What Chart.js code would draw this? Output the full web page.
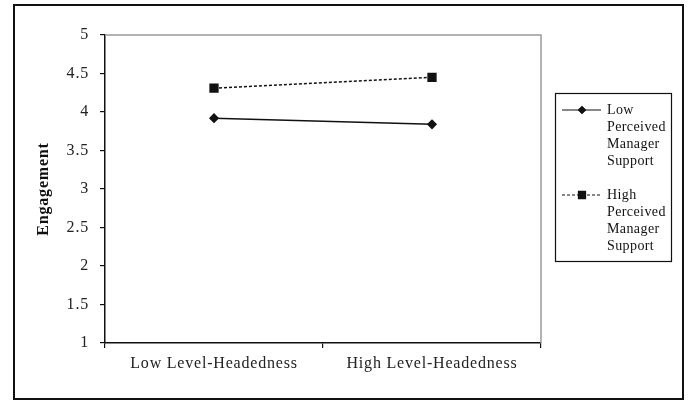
<!DOCTYPE html>
<html>
<head>
<meta charset="utf-8">
<script src="https://cdn.jsdelivr.net/npm/chart.js@4"></script>
<style>
  body { margin: 0; background: #fff; }
  #wrap { position: relative; width: 688px; height: 400px; }
  #frame { position: absolute; left: 13px; top: 4px; width: 667px; height: 392px; border: 2px solid #111; pointer-events: none; }
  canvas { position: absolute; left: 0; top: 0; }
</style>
</head>
<body>
<div id="wrap">
  <canvas id="chart" width="688" height="400"></canvas>
  <div id="frame"></div>
</div>
<script>
// Données du graphique
const categories = ['Low Level-Headedness', 'High Level-Headedness'];
const lowSupport = [3.92, 3.84];
const highSupport = [4.31, 4.45];
const seriesNames = [
    ['Low', 'Perceived', 'Manager', 'Support'],
    ['High', 'Perceived', 'Manager', 'Support']
];
const yTicks = [1, 1.5, 2, 2.5, 3, 3.5, 4, 4.5, 5];

const serif = "'Liberation Serif', 'DejaVu Serif', serif";

// Espacement des lettres (le texte de l'original est assez large)
const spacing = {
    id: 'spacing',
    beforeDraw(chart) {
        chart.ctx.letterSpacing = '0.8px';
    }
};

// Bordure grise en haut et à droite de la zone du graphique
const plotFrame = {
    id: 'plotFrame',
    beforeDatasetsDraw(chart) {
        const a = chart.chartArea;
        const ctx = chart.ctx;
        ctx.save();
        ctx.strokeStyle = '#9a9a9a';
        ctx.lineWidth = 1.5;
        ctx.beginPath();
        ctx.moveTo(a.left, a.top);
        ctx.lineTo(a.right, a.top);
        ctx.lineTo(a.right, a.bottom);
        ctx.stroke();
        ctx.restore();
    }
};

// Légende dessinée à la main (texte sur plusieurs lignes)
const boxLegend = {
    id: 'boxLegend',
    afterDraw(chart) {
        const ctx = chart.ctx;
        ctx.save();
        ctx.letterSpacing = '0.4px';
        ctx.strokeStyle = '#111';
        ctx.lineWidth = 1.2;
        ctx.strokeRect(555.5, 93.5, 116, 168);
        ctx.font = '14px ' + serif;
        ctx.fillStyle = '#111';
        ctx.textBaseline = 'middle';
        const startY = [110, 195];
        chart.data.datasets.forEach((ds, i) => {
            const y = startY[i];
            ctx.beginPath();
            ctx.strokeStyle = '#111';
            ctx.lineWidth = 1.2;
            ctx.setLineDash(ds.borderDash || []);
            ctx.moveTo(562, y);
            ctx.lineTo(601, y);
            ctx.stroke();
            ctx.setLineDash([]);
            Chart.helpers.drawPoint(ctx, {
                pointStyle: ds.pointStyle,
                radius: ds.pointRadius - 0.5,
                borderWidth: 1
            }, 582, y);
            ctx.fill();
            seriesNames[i].forEach((line, j) => {
                ctx.fillText(line, 607, y + j * 17.2);
            });
        });
        ctx.restore();
    }
};

new Chart(document.getElementById('chart'), {
    type: 'line',
    data: {
        labels: categories,
        datasets: [{
            label: seriesNames[0].join(' '),
            data: lowSupport,
            borderColor: '#111',
            backgroundColor: '#111',
            borderWidth: 1.5,
            pointStyle: 'rectRot',
            pointRadius: 4,
            tension: 0
        }, {
            label: seriesNames[1].join(' '),
            data: highSupport,
            borderColor: '#111',
            backgroundColor: '#111',
            borderWidth: 1.5,
            borderDash: [3, 2],
            pointStyle: 'rect',
            pointRadius: 5.5,
            tension: 0
        }]
    },
    options: {
        responsive: false,
        animation: false,
        layout: { padding: { top: 35, right: 147, left: 0, bottom: 0 } },
        plugins: {
            legend: { display: false },
            tooltip: { enabled: false }
        },
        scales: {
            x: {
                offset: true,
                grid: {
                    offset: true,
                    drawOnChartArea: false,
                    tickLength: 5,
                    color: '#111',
                    lineWidth: 1.2
                },
                border: { color: '#111', width: 1.5 },
                ticks: {
                    color: '#222',
                    padding: 6,
                    maxRotation: 0,
                    font: { family: serif, size: 16 }
                },
                afterFit(scale) { scale.height = 57; }
            },
            y: {
                min: 1,
                max: 5,
                afterBuildTicks(scale) {
                    scale.ticks = yTicks.map(v => ({ value: v }));
                },
                grid: {
                    drawOnChartArea: false,
                    tickLength: 5,
                    color: '#111',
                    lineWidth: 1.2
                },
                border: { color: '#111', width: 1.5 },
                ticks: {
                    color: '#222',
                    padding: 11,
                    font: { family: serif, size: 16 },
                    callback: v => String(v)
                },
                title: {
                    display: true,
                    text: 'Engagement',
                    color: '#111',
                    padding: { top: 34, bottom: 0 },
                    font: { family: serif, size: 16, weight: 'bold' }
                },
                afterFit(scale) { scale.width = 105; }
            }
        }
    },
    plugins: [spacing, plotFrame, boxLegend]
});
</script>
</body>
</html>
